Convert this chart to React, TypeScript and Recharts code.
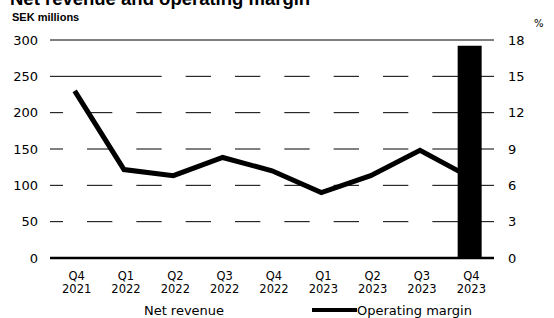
import { ComposedChart, Bar, Line, XAxis, YAxis, CartesianGrid, Legend, Cell } from 'recharts';

const quarters = ['Q4 2021', 'Q1 2022', 'Q2 2022', 'Q3 2022', 'Q4 2022', 'Q1 2023', 'Q2 2023', 'Q3 2023', 'Q4 2023'];
// only the last bar is visible, the rest are white and just cut the grid lines
const netRevenue = [235, 215, 262, 268, 275, 272, 280, 285, 292];
const operatingMargin = [13.8, 7.3, 6.8, 8.3, 7.2, 5.4, 6.8, 8.9, 6.7];
const leftTicks = [0, 50, 100, 150, 200, 250, 300];
const rightTicks = [0, 3, 6, 9, 12, 15, 18];

const data = quarters.map((q, i) => ({ quarter: q, revenue: netRevenue[i], margin: operatingMargin[i] }));

const FONT = '"DejaVu Sans", Verdana, sans-serif';

function QuarterTick({ x, y, payload }: any) {
  const [q, yr] = String(payload.value).split(' ');
  return (
    <text x={x + 2} y={y} textAnchor="middle" fontFamily={FONT} fontSize={11.5} fill="#000">
      <tspan x={x + 2} y={y + 14}>{q}</tspan>
      <tspan x={x + 2} y={y + 27}>{yr}</tspan>
    </text>
  );
}

function LegendContent() {
  return (
    <svg width={554} height={18} style={{ display: 'block' }}>
      <text x={184} y={13} textAnchor="middle" fontFamily={FONT} fontSize={13} fill="#000">Net revenue</text>
      <line x1={312} x2={357} y1={8} y2={8} stroke="#000" strokeWidth={4} />
      <text x={357} y={13} fontFamily={FONT} fontSize={13} fill="#000">Operating margin</text>
    </svg>
  );
}

export default function App() {
  return (
    <div style={{ position: 'absolute', left: 0, top: 0, width: 554, height: 318, background: '#fff', overflow: 'hidden' }}>
      <svg width={554} height={318} style={{ position: 'absolute', left: 0, top: 0 }}>
        <text x={10} y={5} fontFamily='"Liberation Sans", Arial, sans-serif' fontWeight="bold" fontSize={18.5} fill="#000">
          Net revenue and operating margin
        </text>
        <text x={12} y={21} fontFamily='"Liberation Sans", Arial, sans-serif' fontWeight="bold" fontSize={11} fill="#000">
          SEK millions
        </text>
        <text x={534} y={27} fontFamily={FONT} fontSize={10} fill="#000">%</text>
      </svg>
      <div style={{ position: 'absolute', left: 0, top: 0 }}>
        <ComposedChart width={554} height={318} data={data} margin={{ top: 40, right: 30, bottom: 0, left: 0 }}>
          <CartesianGrid yAxisId="left" vertical={false} stroke="#000" strokeWidth={1} />
          <XAxis
            dataKey="quarter"
            tick={<QuarterTick />}
            tickLine={false}
            axisLine={{ stroke: '#000', strokeWidth: 2.5 }}
            interval={0}
            height={40}
          />
          <YAxis
            yAxisId="left"
            domain={[0, 300]}
            ticks={leftTicks}
            width={50}
            tickLine={false}
            axisLine={false}
            tickMargin={6}
            tick={{ fontFamily: FONT, fontSize: 13, fill: '#000' }}
          />
          <YAxis
            yAxisId="right"
            orientation="right"
            domain={[0, 18]}
            ticks={rightTicks}
            width={30}
            tickLine={false}
            axisLine={false}
            tickMargin={8}
            tick={{ fontFamily: FONT, fontSize: 13, fill: '#000', textAnchor: 'start' }}
          />
          <Legend content={<LegendContent />} height={20} wrapperStyle={{ position: 'absolute', left: 0, top: 302, width: 554 }} />
          <Bar yAxisId="left" dataKey="revenue" name="Net revenue" barSize={24} isAnimationActive={false}>
            {data.map((d, i) => (
              <Cell key={d.quarter} fill={i === data.length - 1 ? '#000' : '#fff'} />
            ))}
          </Bar>
          <Line
            yAxisId="right"
            dataKey="margin"
            name="Operating margin"
            stroke="#000"
            strokeWidth={5}
            dot={false}
            type="linear"
            isAnimationActive={false}
          />
        </ComposedChart>
      </div>
    </div>
  );
}
